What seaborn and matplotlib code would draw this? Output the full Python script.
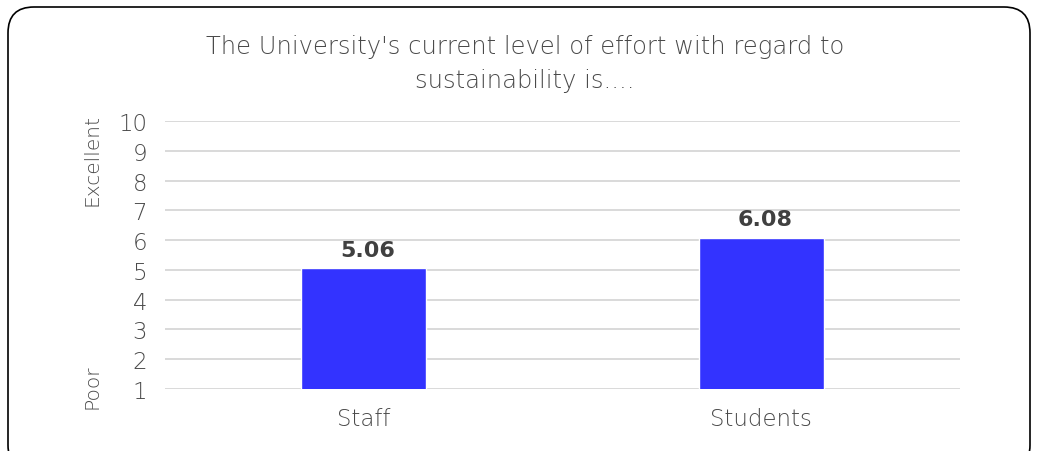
import matplotlib.pyplot as plt
import seaborn as sns
import pandas as pd
from matplotlib.patches import FancyBboxPatch

sns.set_theme(style="white")
plt.rcParams['font.family'] = ['DejaVu Sans']

# data
groups = ["Staff", "Students"]
scores = [5.06, 6.08]
yticks = [1, 2, 3, 4, 5, 6, 7, 8, 9, 10]

df = pd.DataFrame({"group": groups, "score": scores})
txt = "#4a4a4a"

fig = plt.figure(figsize=(10.38, 4.52), dpi=100)
ax = fig.add_axes([165/1038, 1 - 390/452, (960-165)/1038, (390-122)/452])

sns.barplot(data=df, x="group", y="score", color="#3333ff", saturation=1,
            width=0.315, ax=ax, zorder=3)
ax.set_ylim(1, 10)
ax.set_yticks(yticks)
ax.set_xlim(-0.5, 1.5)
ax.yaxis.grid(True, color="#d9d9d9", linewidth=1.4, zorder=0)
for s in ax.spines.values():
    s.set_visible(False)
ax.tick_params(axis="both", length=0, labelsize=16.5, colors=txt)
ax.tick_params(axis="y", pad=13)
ax.tick_params(axis="x", pad=13)
for lab in ax.get_xticklabels() + ax.get_yticklabels():
    lab.set_fontweight("light")
ax.set_xlabel("")
ax.set_ylabel("")

for i, v in enumerate(scores):
    ax.text(i + 0.01, v + 0.28, f"{v:.2f}", ha="center", va="bottom",
            fontsize=16, fontweight="bold", color="#404040")

fig.text(525/1038, 1 - 64/452,
         "The University's current level of effort with regard to\nsustainability is....",
         ha="center", va="center", fontsize=17.5, color=txt,
         linespacing=1.55, fontweight="light")
fig.text(92/1038, 1 - 160/452, "Excellent", rotation=90, ha="center", va="center",
         fontsize=14.5, color=txt, fontweight="light")
fig.text(92/1038, 1 - 387/452, "Poor", rotation=90, ha="center", va="center",
         fontsize=14.5, color=txt, fontweight="light")

border = FancyBboxPatch((8/1038, -20/452), 1022/1038, (452 - 8 + 20)/452,
                        boxstyle="round,pad=0,rounding_size=0.025",
                        transform=fig.transFigure, fill=False,
                        edgecolor="black", linewidth=1.2,
                        mutation_aspect=1038/452)
fig.patches.append(border)

fig.savefig("out.png", dpi=100)
